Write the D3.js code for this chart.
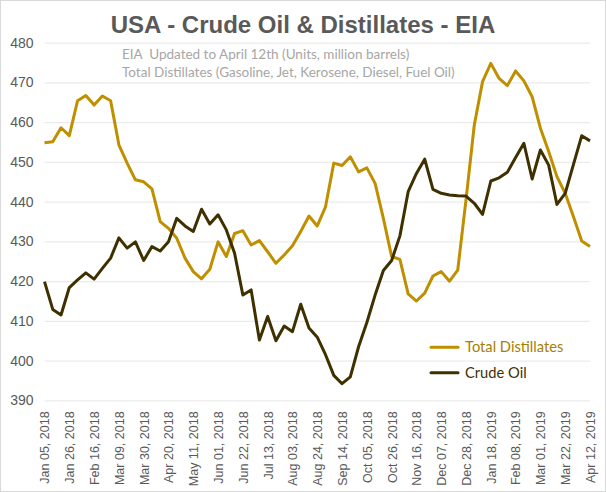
<!DOCTYPE html>
<html>
<head>
<meta charset="utf-8">
<script src="https://cdn.jsdelivr.net/npm/d3@7"></script>
<style>
  body { margin: 0; background: #fff; }
  svg { font-family: Lato, "Open Sans", sans-serif; }
</style>
</head>
<body>
<svg id="chart" width="606" height="492"></svg>
<script>
// weekly stocks, million barrels, Jan 05 2018 .. Apr 12 2019
var distillates = [
    454.8, 455.1, 458.6, 456.6, 465.4, 466.7, 464.3, 466.6, 465.4, 454.3,
    449.7, 445.5, 445.0, 443.2, 435.0, 433.3, 430.8, 425.8, 422.4, 420.6,
    423.0, 429.9, 426.2, 432.0, 432.7, 429.1, 430.2, 427.4, 424.5, 426.6,
    428.9, 432.5, 436.4, 433.9, 438.7, 449.7, 449.1, 451.3, 447.5, 448.5,
    444.6, 435.8, 426.2, 425.5, 416.8, 415.0, 417.0, 421.3, 422.4, 420.0,
    422.8, 440.5, 459.3, 470.2, 474.8, 471.0, 469.2, 472.9, 470.4, 466.4,
    458.5, 452.6, 446.3, 442.1, 436.2, 430.1, 428.7
];
var crude = [
    419.9, 412.9, 411.5, 418.4, 420.3, 422.1, 420.5, 423.2, 425.8, 430.9,
    428.3, 429.9, 425.2, 428.7, 427.6, 429.9, 435.8, 433.9, 432.5, 438.1,
    434.4, 436.7, 432.9, 427.0, 416.5, 417.8, 405.2, 411.1, 405.0, 408.7,
    407.3, 414.2, 408.2, 405.9, 401.5, 396.3, 394.2, 395.9, 403.5, 409.6,
    416.5, 422.7, 425.2, 431.4, 442.5, 447.1, 450.7, 443.1, 442.1, 441.7,
    441.5, 441.4, 439.6, 436.8, 445.2, 446.0, 447.4, 451.1, 454.7, 445.7,
    453.0, 449.2, 439.3, 442.1, 449.4, 456.6, 455.3
];
var weeks = d3.timeFriday.range(new Date(2018, 0, 5), new Date(2019, 3, 13));
var yTicks = [390, 400, 410, 420, 430, 440, 450, 460, 470, 480];
var series = [
    {name: "Total Distillates", values: distillates, color: "#bf8f00", text: "#a97f00"},
    {name: "Crude Oil", values: crude, color: "#3f3000", text: "#3f3000"}
];

(function(){
    var svg = d3.select("#chart");
    var plotLeft = 44.5, plotRight = 590, plotTop = 42.7, plotBottom = 400.4;

    svg.append("rect")
	.attr("x", 0.5).attr("y", 0.5)
	.attr("width", 605).attr("height", 491)
	.attr("fill", "#fff")
	.attr("stroke", "#d9d9d9");

    var x = d3.scaleTime()
	.domain([weeks[0], weeks[weeks.length - 1]])
	.range([plotLeft, plotRight]);
    var y = d3.scaleLinear()
	.domain([390, 480])
	.range([plotBottom, plotTop]);

    // gridlines + y labels
    var yAxis = svg.append("g")
	.attr("transform", "translate(" + plotLeft + ",0)")
	.call(d3.axisLeft(y).tickValues(yTicks).tickSize(-(plotRight - plotLeft)).tickPadding(11));
    yAxis.select(".domain").remove();
    yAxis.selectAll("line").attr("stroke", "#ebebeb").attr("stroke-width", 1.2);
    yAxis.selectAll("text")
	.attr("fill", "#595959")
	.style("font-size", "14px");

    // x labels, every third week
    var xAxis = svg.append("g")
	.attr("transform", "translate(0," + plotBottom + ")")
	.call(d3.axisBottom(x)
	      .tickValues(weeks.filter(function(d, i){ return i % 3 === 0; }))
	      .tickFormat(d3.timeFormat("%b %d, %Y"))
	      .tickSize(0));
    xAxis.select(".domain").remove();
    xAxis.selectAll("text")
	.attr("fill", "#595959")
	.style("font-size", "12.5px")
	.attr("text-anchor", "end")
	.attr("transform", "rotate(-90)")
	.attr("x", -11)
	.attr("y", 0)
	.attr("dy", "0.35em");

    var line = d3.line()
	.x(function(d, i){ return x(weeks[i]); })
	.y(function(d){ return y(d); });

    svg.selectAll("path.series")
	.data(series)
	.enter()
	.append("path")
	.attr("class", "series")
	.attr("fill", "none")
	.attr("stroke", function(d){ return d.color; })
	.attr("stroke-width", 3)
	.attr("stroke-linejoin", "round")
	.attr("d", function(d){ return line(d.values); });

    // title + notes
    svg.append("text")
	.attr("x", 303).attr("y", 33)
	.attr("text-anchor", "middle")
	.attr("fill", "#595959")
	.style("font-family", "'Liberation Sans', Arial, sans-serif")
	.style("font-weight", "bold")
	.style("font-size", "24px")
	.text("USA - Crude Oil & Distillates - EIA");

    var notes = ["EIA  Updated to April 12th (Units, million barrels)",
		 "Total Distillates (Gasoline, Jet, Kerosene, Diesel, Fuel Oil)"];
    svg.selectAll("text.note")
	.data(notes)
	.enter()
	.append("text")
	.attr("class", "note")
	.attr("x", 122)
	.attr("y", function(d, i){ return 58.5 + i * 18; })
	.attr("fill", "#a6a6a6")
	.style("font-size", "13.5px")
	.style("white-space", "pre")
	.text(function(d){ return d; });

    // legend
    var legend = svg.selectAll("g.legend")
	.data(series)
	.enter()
	.append("g")
	.attr("class", "legend")
	.attr("transform", function(d, i){ return "translate(431," + (347.3 + i * 25.5) + ")"; });
    legend.append("line")
	.attr("x1", 0).attr("x2", 27)
	.attr("stroke", function(d){ return d.color; })
	.attr("stroke-width", 3)
	.attr("stroke-linecap", "round");
    legend.append("text")
	.attr("x", 34)
	.attr("dy", "0.35em")
	.attr("fill", function(d){ return d.text; })
	.style("font-size", "14.7px")
	.text(function(d){ return d.name; });
})();
</script>
</body>
</html>
